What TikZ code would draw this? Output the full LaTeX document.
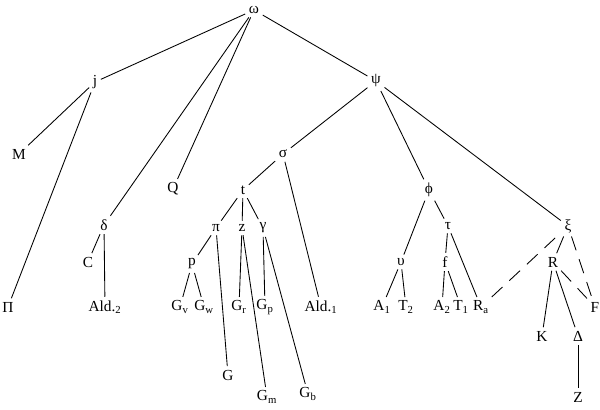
\documentclass[tikz,border=0pt]{standalone}
\usepackage{fontspec}
\setmainfont{Liberation Serif}

\begin{document}
\begin{tikzpicture}[x=0.75pt, y=-0.75pt, every node/.style={font=\fontsize{11.5}{13}\selectfont, inner sep=2.6pt}, link/.style={line width=0.65pt}, dlink/.style={link, dash pattern=on 11pt off 7pt}]
  \useasboundingbox (0,0) rectangle (600,410);
  \node (omega) at (254,10) {ω};
  \node (j) at (95,82) {j};
  \node (M) at (19,154) {M};
  \node (Pi) at (8,307) {Π};
  \node (delta) at (104,225) {δ};
  \node (C) at (88,262) {C};
  \node (Ald2) at (105,307) {Ald.\textsubscript{2}};
  \node (Q) at (173,189) {Q};
  \node (psi) at (376,81) {ψ};
  \node (sigma) at (283,154) {σ};
  \node (t) at (243,190) {t};
  \node (Ald1) at (321,307) {Ald.\textsubscript{1}};
  \node (pi) at (216,228) {π};
  \node (z) at (242,228) {z};
  \node (gamma) at (263,228) {γ};
  \node (p) at (192,264) {p};
  \node (Gv) at (180,307) {G\textsubscript{v}};
  \node (Gw) at (204,307) {G\textsubscript{w}};
  \node (Gr) at (239,307) {G\textsubscript{r}};
  \node (Gp) at (265,307) {G\textsubscript{p}};
  \node (G) at (228,375) {G};
  \node (Gm) at (267,397) {G\textsubscript{m}};
  \node (Gb) at (308,394) {G\textsubscript{b}};
  \node (phi) at (429,190) {ϕ};
  \node (upsilon) at (401,262) {υ};
  \node (tau) at (448,226) {τ};
  \node (f) at (445,262) {f};
  \node (A1) at (382,307) {A\textsubscript{1}};
  \node (T2) at (406,307) {T\textsubscript{2}};
  \node (A2) at (442,307) {A\textsubscript{2}};
  \node (T1) at (461,307) {T\textsubscript{1}};
  \node (Ra) at (481,307) {R\textsubscript{a}};
  \node (xi) at (568,226) {ξ};
  \node (R) at (553,262) {R};
  \node (F) at (595,307) {F};
  \node (K) at (542,336) {K};
  \node (Delta) at (578,336) {Δ};
  \node (Z) at (578,397) {Z};
  % upper levels
  \draw[link] (omega) -- (j);
  \draw[link] (omega) -- (delta);
  \draw[link] (omega) -- (Q);
  \draw[link] (omega) -- (psi);
  \draw[link] (j) -- (M);
  \draw[link] (j) -- (Pi);
  \draw[link] (delta) -- (C);
  \draw[link] (delta) -- (Ald2);
  \draw[link] (psi) -- (sigma);
  \draw[link] (psi) -- (phi);
  \draw[link] (psi) -- (xi);
  % sigma branch
  \draw[link] (sigma) -- (t);
  \draw[link] (sigma) -- (Ald1);
  \draw[link] (t) -- (pi);
  \draw[link] (t) -- (z);
  \draw[link] (t) -- (gamma);
  \draw[link] (pi) -- (p);
  \draw[link] (pi) -- (G);
  \draw[link] (p) -- (Gv);
  \draw[link] (p) -- (Gw);
  \draw[link] (z) -- (Gr);
  \draw[link] (z) -- (Gm);
  \draw[link] (gamma) -- (Gp);
  \draw[link] (gamma) -- (Gb);
  % phi branch
  \draw[link] (phi) -- (upsilon);
  \draw[link] (phi) -- (tau);
  \draw[link] (upsilon) -- (A1);
  \draw[link] (upsilon) -- (T2);
  \draw[link] (tau) -- (f);
  \draw[link] (tau) -- (Ra);
  \draw[link] (f) -- (A2);
  \draw[link] (f) -- (T1);
  % xi branch
  \draw[dlink] (Ra) -- (xi);
  \draw[link] (xi) -- (R);
  \draw[dlink] (xi) -- (F);
  \draw[dlink] (R) -- (F);
  \draw[link] (R) -- (K);
  \draw[link] (R) -- (Delta);
  \draw[link] (Delta) -- (Z);
\end{tikzpicture}
\end{document}
